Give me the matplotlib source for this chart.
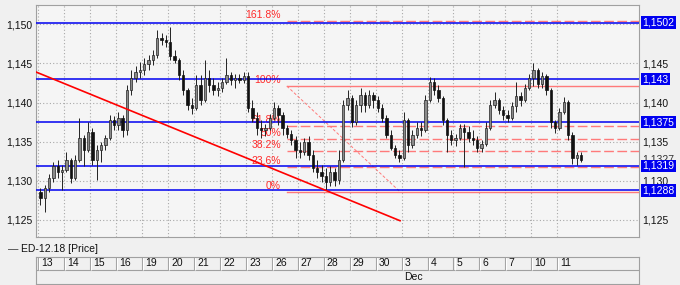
import numpy as np
import matplotlib
matplotlib.use("Agg")
import matplotlib.pyplot as plt
import matplotlib.transforms as mtransforms
from matplotlib.ticker import FuncFormatter, MultipleLocator

plt.rcParams['font.family'] = ['Liberation Sans', 'DejaVu Sans']

# trading days on the axis (6 intraday bars per day)
days = ['13', '14', '15', '16', '19', '20', '21', '22', '23', '26', '27',
        '28', '29', '30', '3', '4', '5', '6', '7', '10', '11']
bars_per_day = 6

opens = [1.1286, 1.1278, 1.1291, 1.1304, 1.1319, 1.1311,
         1.1314, 1.1327, 1.1304, 1.1327, 1.1355, 1.1339,
         1.1362, 1.1327, 1.1339, 1.1346, 1.1355, 1.1378,
         1.1371, 1.1380, 1.1365, 1.1416, 1.1431, 1.1439,
         1.1442, 1.1449, 1.1454, 1.1461, 1.1482, 1.1480,
         1.1477, 1.1459, 1.1454, 1.1435, 1.1416, 1.1397,
         1.1393, 1.1422, 1.1403, 1.1431, 1.1422, 1.1416,
         1.1419, 1.1426, 1.1435, 1.1429, 1.1431, 1.1429,
         1.1434, 1.1393, 1.1380, 1.1367, 1.1365, 1.1367,
         1.1380, 1.1393, 1.1384, 1.1367, 1.1360, 1.1352,
         1.1339, 1.1337, 1.1350, 1.1333, 1.1316, 1.1311,
         1.1306, 1.1299, 1.1311, 1.1301, 1.1327, 1.1397,
         1.1406, 1.1375, 1.1397, 1.1410, 1.1397, 1.1410,
         1.1403, 1.1393, 1.1380, 1.1359, 1.1342, 1.1333,
         1.1329, 1.1378, 1.1346, 1.1359, 1.1367, 1.1365,
         1.1403, 1.1426, 1.1416, 1.1406, 1.1378, 1.1359,
         1.1352, 1.1355, 1.1367, 1.1362, 1.1355, 1.1352,
         1.1342, 1.1347, 1.1367, 1.1397, 1.1403, 1.1390,
         1.1384, 1.1380, 1.1396, 1.1408, 1.1403, 1.1419,
         1.1431, 1.1442, 1.1424, 1.1434, 1.1416, 1.1375,
         1.1367, 1.1388, 1.1401, 1.1359, 1.1329, 1.1333]
highs = [1.1291, 1.1295, 1.1309, 1.1324, 1.1327, 1.1320,
         1.1337, 1.1329, 1.1333, 1.1380, 1.1359, 1.1375,
         1.1367, 1.1346, 1.1350, 1.1359, 1.1384, 1.1383,
         1.1388, 1.1384, 1.1422, 1.1442, 1.1447, 1.1452,
         1.1457, 1.1461, 1.1467, 1.1493, 1.1489, 1.1486,
         1.1497, 1.1467, 1.1457, 1.1442, 1.1419, 1.1406,
         1.1435, 1.1435, 1.1454, 1.1442, 1.1431, 1.1426,
         1.1431, 1.1457, 1.1439, 1.1436, 1.1436, 1.1439,
         1.1439, 1.1403, 1.1388, 1.1378, 1.1373, 1.1385,
         1.1401, 1.1397, 1.1388, 1.1371, 1.1365, 1.1357,
         1.1350, 1.1355, 1.1357, 1.1339, 1.1327, 1.1320,
         1.1316, 1.1319, 1.1316, 1.1339, 1.1403, 1.1416,
         1.1410, 1.1403, 1.1419, 1.1413, 1.1416, 1.1413,
         1.1408, 1.1398, 1.1384, 1.1365, 1.1346, 1.1339,
         1.1388, 1.1380, 1.1365, 1.1375, 1.1375, 1.1410,
         1.1433, 1.1431, 1.1422, 1.1408, 1.1380, 1.1365,
         1.1360, 1.1373, 1.1373, 1.1370, 1.1365, 1.1357,
         1.1352, 1.1375, 1.1403, 1.1413, 1.1406, 1.1396,
         1.1390, 1.1401, 1.1426, 1.1413, 1.1424, 1.1436,
         1.1451, 1.1444, 1.1439, 1.1436, 1.1419, 1.1378,
         1.1393, 1.1407, 1.1403, 1.1362, 1.1337, 1.1337]
lows = [1.1269, 1.1260, 1.1286, 1.1299, 1.1304, 1.1288,
        1.1311, 1.1297, 1.1301, 1.1324, 1.1319, 1.1337,
        1.1320, 1.1301, 1.1324, 1.1339, 1.1352, 1.1365,
        1.1365, 1.1356, 1.1359, 1.1410, 1.1426, 1.1431,
        1.1435, 1.1442, 1.1448, 1.1457, 1.1474, 1.1471,
        1.1454, 1.1451, 1.1429, 1.1410, 1.1390, 1.1385,
        1.1390, 1.1397, 1.1401, 1.1413, 1.1410, 1.1408,
        1.1413, 1.1424, 1.1422, 1.1419, 1.1425, 1.1425,
        1.1388, 1.1375, 1.1359, 1.1355, 1.1357, 1.1365,
        1.1378, 1.1371, 1.1359, 1.1355, 1.1346, 1.1329,
        1.1329, 1.1333, 1.1327, 1.1311, 1.1304, 1.1299,
        1.1288, 1.1293, 1.1293, 1.1296, 1.1324, 1.1390,
        1.1369, 1.1371, 1.1388, 1.1388, 1.1393, 1.1393,
        1.1388, 1.1375, 1.1355, 1.1339, 1.1329, 1.1324,
        1.1327, 1.1337, 1.1342, 1.1355, 1.1357, 1.1362,
        1.1401, 1.1410, 1.1401, 1.1371, 1.1337, 1.1346,
        1.1344, 1.1352, 1.1318, 1.1350, 1.1346, 1.1337,
        1.1337, 1.1344, 1.1365, 1.1393, 1.1385, 1.1378,
        1.1375, 1.1378, 1.1388, 1.1396, 1.1401, 1.1416,
        1.1421, 1.1419, 1.1419, 1.1410, 1.1367, 1.1361,
        1.1365, 1.1385, 1.1352, 1.1321, 1.1320, 1.1324]
closes = [1.1278, 1.1291, 1.1304, 1.1319, 1.1311, 1.1314,
          1.1327, 1.1304, 1.1327, 1.1355, 1.1339, 1.1362,
          1.1327, 1.1339, 1.1346, 1.1355, 1.1378, 1.1371,
          1.1380, 1.1365, 1.1416, 1.1431, 1.1439, 1.1442,
          1.1449, 1.1454, 1.1461, 1.1482, 1.1480, 1.1477,
          1.1459, 1.1454, 1.1435, 1.1416, 1.1397, 1.1393,
          1.1422, 1.1403, 1.1431, 1.1422, 1.1416, 1.1419,
          1.1426, 1.1435, 1.1429, 1.1431, 1.1429, 1.1434,
          1.1393, 1.1380, 1.1367, 1.1365, 1.1367, 1.1380,
          1.1393, 1.1384, 1.1367, 1.1360, 1.1352, 1.1339,
          1.1337, 1.1350, 1.1333, 1.1316, 1.1311, 1.1306,
          1.1299, 1.1311, 1.1301, 1.1327, 1.1397, 1.1406,
          1.1375, 1.1397, 1.1410, 1.1397, 1.1410, 1.1403,
          1.1393, 1.1380, 1.1359, 1.1342, 1.1333, 1.1329,
          1.1378, 1.1346, 1.1359, 1.1367, 1.1365, 1.1403,
          1.1426, 1.1416, 1.1406, 1.1378, 1.1359, 1.1352,
          1.1355, 1.1367, 1.1362, 1.1355, 1.1352, 1.1342,
          1.1347, 1.1367, 1.1397, 1.1403, 1.1390, 1.1384,
          1.1380, 1.1396, 1.1408, 1.1403, 1.1419, 1.1431,
          1.1442, 1.1424, 1.1434, 1.1416, 1.1375, 1.1367,
          1.1388, 1.1401, 1.1359, 1.1329, 1.1333, 1.1327]

# horizontal support / resistance lines
hlines = [1.1502, 1.143, 1.1375, 1.1319, 1.1288]
hline_labels = ['1,1502', '1,143', '1,1375', '1,1319', '1,1288']
last_price = 1.1327
last_label = '1,1327'

# fibonacci retracement anchors (x in day units)
fib_low, fib_high = 1.1286, 1.1421
fib_x0, fib_x1 = 9.58, 13.94
fib_ratios = [0, 0.236, 0.382, 0.5, 0.618, 1.0, 1.618]
fib_labels = ['0%', '23.6%', '38.2%', '50%', '61.8%', '100%', '161.8%']

# red trend line
trend_x = [-0.09, 13.94]
trend_y = [1.1439, 1.1249]

W, H = 680, 285
fig = plt.figure(figsize=(W / 100, H / 100), dpi=100, facecolor='#f0f0f0')
ax = fig.add_axes([36 / W, 1 - 237 / H, 603 / W, 232 / H], facecolor='#f5f5f5')

o = np.array(opens); h = np.array(highs); l = np.array(lows); c = np.array(closes)
x = np.arange(len(c)) / bars_per_day + 0.5 / bars_per_day

# candles
ax.vlines(x, l, h, color='#222222', lw=0.7, zorder=4)
up = c >= o
body = np.maximum(np.abs(c - o), 0.00004)
ax.bar(x[up], body[up], bottom=o[up], width=0.09, color='#8a8a8a',
       edgecolor='#222222', lw=0.5, zorder=4)
ax.bar(x[~up], body[~up], bottom=c[~up], width=0.09, color='#111111',
       edgecolor='#111111', lw=0.5, zorder=4)

# blue lines
trans_r = mtransforms.blended_transform_factory(ax.transAxes, ax.transData)
for p, lab in zip(hlines, hline_labels):
    ax.axhline(p, color='#0000f0', lw=1.1, zorder=3)
    ax.text(1.006, p, lab, transform=trans_r, color='white', fontsize=7.5,
            va='center', ha='left', zorder=6, clip_on=False,
            bbox=dict(facecolor='#0000f0', edgecolor='none', pad=1.0))
ax.text(1.006, last_price, last_label, transform=trans_r, color='#333333',
        fontsize=7.5, va='center', ha='left', zorder=5, clip_on=False)

# fibonacci
rng = fib_high - fib_low
for r, lab in zip(fib_ratios, fib_labels):
    p = fib_low + r * rng
    ls = '-' if r in (0, 1.0) else (0, (7, 2.5))
    ax.plot([fib_x0, 23.2], [p, p], color='#ff7a7a', lw=1.0, ls=ls, zorder=2)
    ax.annotate(lab, (9.35, p), xytext=(0, 4.5), textcoords='offset points',
                color='#ff2a2a', fontsize=7.5, ha='right', va='center', zorder=1.5)
ax.plot([fib_x0, fib_x1], [fib_high, fib_low], color='#ff7a7a', lw=0.7,
        ls=(0, (3, 2)), zorder=2)

# trend line
ax.plot(trend_x, trend_y, color='#ff0000', lw=1.2, zorder=5)

ax.set_xlim(-0.09, 23.15)
ax.set_ylim(1.12282, 1.15246)
ax.yaxis.set_major_locator(MultipleLocator(0.005))
ax.yaxis.set_major_formatter(FuncFormatter(lambda v, _: f"{v:.3f}".replace('.', ',')))
ax.set_xticks(np.arange(len(days)))
ax.tick_params(axis='x', length=0, labelbottom=False)
ax.tick_params(axis='y', length=0, labelsize=7.5, labelright=True, pad=2.5,
               colors='#111111')
ax.grid(True, color='#a8a8a8', lw=0.8, ls=(0, (1, 2)))
ax.set_axisbelow(True)
for s in ax.spines.values():
    s.set_color('#a0a0a0')
    s.set_linewidth(0.8)

fig.canvas.draw()
# right-hand labels: the top one sits under the 1,1502 box in the reference
for t in ax.yaxis.get_major_ticks():
    if abs(t.get_loc() - 1.150) < 1e-6:
        t.label2.set_visible(False)

# legend line
fig.text(8 / W, 1 - 249 / H, '\u2014', fontsize=7.5, va='center', ha='left', color='#333333')
fig.text(21 / W, 1 - 249 / H, 'ED-12.18 [Price]', fontsize=7.5, va='center', ha='left',
         color='#111111')

# date axis panel
ax2 = fig.add_axes([36 / W, 1 - 284 / H, 603 / W, 27 / H], facecolor='#f0f0f0')
ax2.set_xlim(-0.09, 23.15)
ax2.set_ylim(0, 27)
ax2.axhline(14, color='#a0a0a0', lw=0.8)
ax2.vlines(np.arange(len(days)), 14, 27, color='#a0a0a0', lw=0.8)
ax2.vlines(np.arange(len(days)) + 0.04, 14, 27, color='white', lw=0.8)
for k, d in enumerate(days):
    ax2.text(k + 0.12, 20.5, d, fontsize=7.5, va='center', ha='left', color='#111111')
ax2.text(days.index('3') + 0.08, 7, 'Dec', fontsize=7.5, va='center', ha='left',
         color='#111111')
ax2.set_xticks([]); ax2.set_yticks([])
for s in ax2.spines.values():
    s.set_color('#a0a0a0')
    s.set_linewidth(0.8)

fig.savefig('out.png', dpi=100, facecolor=fig.get_facecolor())
